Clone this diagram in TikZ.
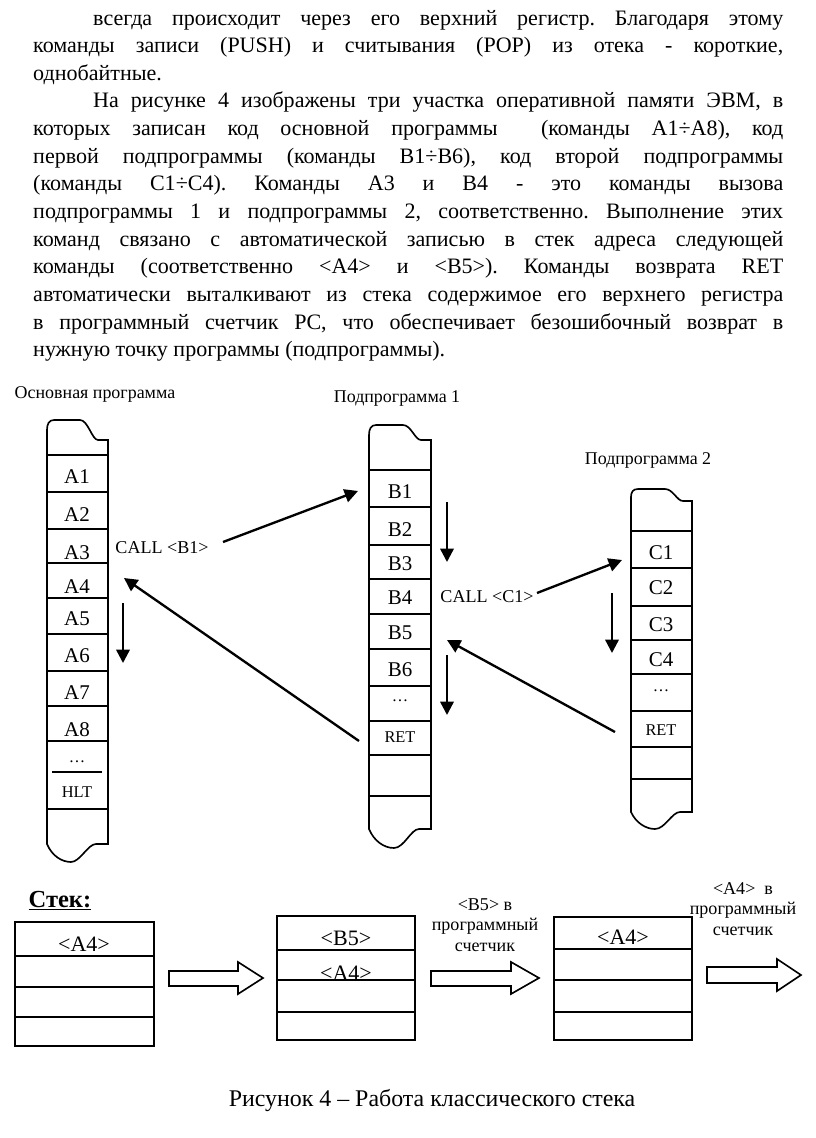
\documentclass[tikz,border=0pt]{standalone}
\usepackage{fontspec}
\setmainfont{Liberation Serif}
\usepackage{tikz}
\usetikzlibrary{positioning}
\usetikzlibrary{arrows.meta}
\frenchspacing

\begin{document}
\begin{tikzpicture}[x=0.03cm, y=-0.03cm,
  column/.style={line width=1.4pt},
  cell/.style={font=\fontsize{17.9pt}{20pt}\selectfont},
  small/.style={font=\fontsize{14pt}{16pt}\selectfont},
  title/.style={font=\fontsize{15.3pt}{17pt}\selectfont, anchor=base},
  flow/.style={line width=2pt, -{Triangle[length=0.4cm, width=0.4cm]}},
  hollow/.style={line width=1.4pt},
  stackcell/.style={font=\fontsize{18.8pt}{20pt}\selectfont},
  pcnote/.style={font=\fontsize{15.4pt}{17.5pt}\selectfont, align=center}]

\useasboundingbox[fill=white] (0,0) rectangle (816,1138);

% text above the figure
\node[anchor=base west, inner sep=0pt, text width=22.5cm, align=justify,
  font=\fontsize{18.8pt}{23.6pt}\selectfont] (body) at (33,25)
{\hspace*{1.8cm}всегда происходит через его верхний регистр. Благодаря этому\linebreak
команды записи (PUSH) и считывания (POP) из отека - короткие,\linebreak
однобайтные.\par
\hspace*{1.8cm}На рисунке 4 изображены три участка оперативной памяти ЭВМ, в\linebreak
которых записан код основной программы \ (команды A1÷A8), код\linebreak
первой подпрограммы (команды B1÷B6), код второй подпрограммы\linebreak
(команды C1÷C4). Команды A3 и B4 - это команды вызова\linebreak
подпрограммы 1 и подпрограммы 2, соответственно. Выполнение этих\linebreak
команд связано с автоматической записью в стек адреса следующей\linebreak
команды (соответственно <A4> и <B5>). Команды возврата RET\linebreak
автоматически выталкивают из стека содержимое его верхнего регистра\linebreak
в программный счетчик PC, что обеспечивает безошибочный возврат в\linebreak
нужную точку программы (подпрограммы).};

% main program
\node[title] (main) at (95,398) {Основная программа};
\draw[column] (47,430) -- (47,844) .. controls (52,856) and (62,862) .. (71,862)
  .. controls (80,862) and (88,844) .. (96,844) -- (108,844) -- (108,440) -- (98,440)
  .. controls (92,440) and (88,420) .. (80,420) -- (54,420) .. controls (49,420) and (47,424) .. (47,430);
\foreach \y in {455,492,529,563,598,634,671,706,741,809}
  \draw[column] (47,\y) -- (108,\y);
\draw[column] (52,772) -- (102,772);

\foreach \i/\y in {1/477,2/515,3/553,4/587,5/619,6/656,7/693,8/730}
  \node[cell] (A\i) at (77,\y) {A\i};
\node[small] (Adots) at (77,762) {\dots};
\node[small] (HLT) at (77,792) {HLT};

% subroutine 1
\node[title] (sub1) at (397,402) {Подпрограмма 1};
\draw[column] (369,435) -- (369,829) .. controls (374,841) and (384,848) .. (394,848)
  .. controls (404,848) and (411,829) .. (419,829) -- (431,829) -- (431,440) -- (421,440)
  .. controls (415,440) and (411,425) .. (403,425) -- (376,425) .. controls (371,425) and (369,429) .. (369,435);
\foreach \y in {470,507,545,579,614,649,686,721,755,796}
  \draw[column] (369,\y) -- (431,\y);

\foreach \i/\y in {1/492,2/530,3/564,4/598,5/633,6/670}
  \node[cell] (B\i) at (400,\y) {B\i};
\node[small] (Bdots) at (400,701) {\dots};
\node[small] (Bret) at (400,737) {RET};

% subroutine 2
\node[title] (sub2) at (648,464) {Подпрограмма 2};
\draw[column] (631,497) -- (631,812) .. controls (636,823) and (646,829) .. (655,829)
  .. controls (665,829) and (672,812) .. (680,812) -- (692,812) -- (692,501) -- (683,501)
  .. controls (677,501) and (673,489) .. (665,489) -- (638,489) .. controls (633,489) and (631,492) .. (631,497);
\foreach \y in {531,568,606,640,674,711,747,779}
  \draw[column] (631,\y) -- (692,\y);

\foreach \i/\y in {1/553,2/588,3/625,4/660}
  \node[cell] (C\i) at (661,\y) {C\i};
\node[small] (Cdots) at (661,691) {\dots};
\node[small] (Cret) at (661,730) {RET};

% calls and returns
\node[font=\fontsize{15.4pt}{17pt}\selectfont] (callB) at (162,548) {CALL <B1>};
\node[font=\fontsize{15.4pt}{17pt}\selectfont] (callC) at (487,597) {CALL <C1>};

\coordinate (callB-s) at (223,542);
\coordinate (callB-e) at (358,491);
\coordinate (retA-s) at (359,741);
\coordinate (retA-e) at (124,578);
\coordinate (callC-s) at (537,593);
\coordinate (callC-e) at (622,560);
\coordinate (retB-s) at (615,732);
\coordinate (retB-e) at (447,640);

\draw[flow] (callB-s) -- (callB-e);
\draw[flow] (retA-s) -- (retA-e);
\draw[flow] (callC-s) -- (callC-e);
\draw[flow] (retB-s) -- (retB-e);

\draw[flow] (123,603) -- (123,663);
\draw[flow] (447,502) -- (447,562);
\draw[flow] (447,655) -- (447,715);
\draw[flow] (612,593) -- (612,653);

% stack
\node[font=\bfseries\fontsize{20.9pt}{24pt}\selectfont, anchor=base] (stek) at (60,907) {\underline{Стек:}};

\draw[hollow] (15,922) rectangle (154,1046);
\foreach \y in {956,987,1017}
  \draw[hollow] (15,\y) -- (154,\y);
\node[stackcell] (s1top) at (84,944) {<A4>};

\draw[hollow] (169,971) -- (238,971) -- (238,962) -- (263,978) -- (238,994) -- (238,986) -- (169,986) -- cycle;

\draw[hollow] (277,916) rectangle (415,1040);
\foreach \y in {950,980,1012}
  \draw[hollow] (277,\y) -- (415,\y);
\node[stackcell] (s2top) at (346,938) {<B5>};
\node[stackcell] (s2next) at (346,973) {<A4>};

\node[pcnote] (pc1) at (485,925) {<B5> в\\программный\\счетчик};
\draw[hollow] (431,971) -- (511,971) -- (511,962) -- (539,978) -- (511,994) -- (511,986) -- (431,986) -- cycle;

\draw[hollow] (554,917) rectangle (692,1040);
\foreach \y in {949,980,1012}
  \draw[hollow] (554,\y) -- (692,\y);
\node[stackcell] (s3top) at (623,937) {<A4>};

\node[pcnote] (pc2) at (743,909) {<A4> \ в\\программный\\счетчик};
\draw[hollow] (707,967) -- (777,967) -- (777,959) -- (801,975) -- (777,991) -- (777,983) -- (707,983) -- cycle;

% caption
\node[font=\fontsize{20.4pt}{24pt}\selectfont, anchor=base] (caption) at (432,1106) {Рисунок 4 – Работа классического стека};

\end{tikzpicture}
\end{document}
